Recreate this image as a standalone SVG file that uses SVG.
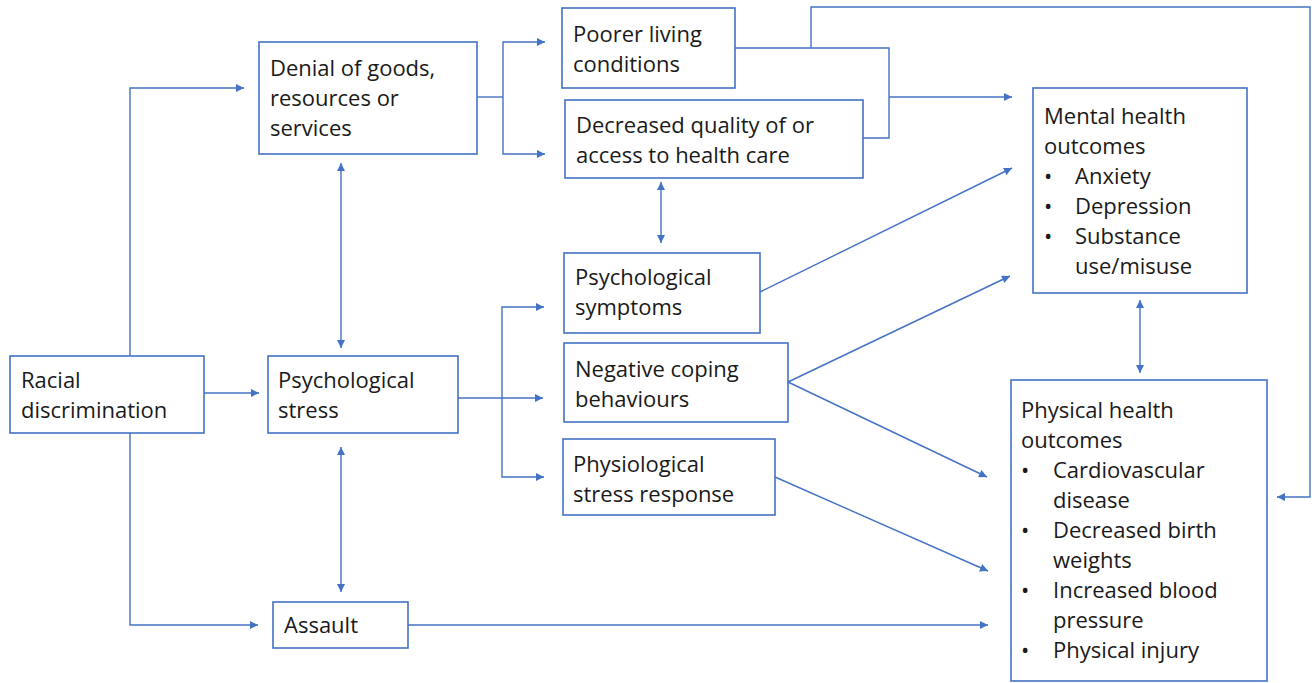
<svg xmlns="http://www.w3.org/2000/svg" width="1314" height="683" viewBox="0 0 1314 683">
<style>
.box{fill:#fff;stroke:#4472C4;stroke-width:1.6}
.ln{fill:none;stroke:#4472C4;stroke-width:1.4}
text{font-family:"Open Sans",Lato,"Liberation Sans",sans-serif;font-size:22px;fill:#1a1a1a}
</style>
<defs>
<marker id="ah" viewBox="0 0 10 10" refX="10" refY="5" markerWidth="9" markerHeight="8" markerUnits="userSpaceOnUse" orient="auto-start-reverse">
<path d="M0,0 L10,5 L0,10 z" fill="#4472C4"/>
</marker>
</defs>
<rect width="1314" height="683" fill="#fff"/>
<g id="connectors">
<path class="ln" d="M130,356 V88 H244" marker-end="url(#ah)"/>
<path class="ln" d="M130,433 V625 H258" marker-end="url(#ah)"/>
<path class="ln" d="M204,393 H259" marker-end="url(#ah)"/>
<path class="ln" d="M341,163 V348" marker-start="url(#ah)" marker-end="url(#ah)"/>
<path class="ln" d="M341,447 V592" marker-start="url(#ah)" marker-end="url(#ah)"/>
<path class="ln" d="M477,97 H503"/>
<path class="ln" d="M545,42 H503 V154 H545" marker-start="url(#ah)" marker-end="url(#ah)"/>
<path class="ln" d="M458,398 H543" marker-end="url(#ah)"/>
<path class="ln" d="M544,307 H502 V477 H544" marker-start="url(#ah)" marker-end="url(#ah)"/>
<path class="ln" d="M661,182 V243" marker-start="url(#ah)" marker-end="url(#ah)"/>
<path class="ln" d="M735,48 H889 V138 H863"/>
<path class="ln" d="M889,97 H1012" marker-end="url(#ah)"/>
<path class="ln" d="M811,48 V7 H1310 V497 H1277" marker-end="url(#ah)"/>
<path class="ln" d="M760,292 L1012,168" marker-end="url(#ah)"/>
<path class="ln" d="M788,382 L1010,276" marker-end="url(#ah)"/>
<path class="ln" d="M788,382 L987,477" marker-end="url(#ah)"/>
<path class="ln" d="M775,477 L988,571" marker-end="url(#ah)"/>
<path class="ln" d="M408,625 H988" marker-end="url(#ah)"/>
<path class="ln" d="M1140,300 V373" marker-start="url(#ah)" marker-end="url(#ah)"/>
</g>
<g id="racial">
<rect class="box" x="10" y="356" width="194" height="77"/>
<text x="21" y="388">Racial</text>
<text x="21" y="418">discrimination</text>
</g>
<g id="denial">
<rect class="box" x="259" y="42" width="218" height="112"/>
<text x="270" y="76">Denial of goods,</text>
<text x="270" y="106">resources or</text>
<text x="270" y="136">services</text>
</g>
<g id="stress">
<rect class="box" x="268" y="356" width="190" height="77"/>
<text x="278" y="388">Psychological</text>
<text x="278" y="418">stress</text>
</g>
<g id="assault">
<rect class="box" x="273" y="602" width="135" height="46"/>
<text x="284" y="633">Assault</text>
</g>
<g id="poorer">
<rect class="box" x="562" y="8" width="173" height="80"/>
<text x="573" y="42">Poorer living</text>
<text x="573" y="72">conditions</text>
</g>
<g id="healthcare">
<rect class="box" x="565" y="100" width="298" height="78"/>
<text x="576" y="133">Decreased quality of or</text>
<text x="576" y="163">access to health care</text>
</g>
<g id="symptoms">
<rect class="box" x="564" y="253" width="196" height="80"/>
<text x="575" y="285">Psychological</text>
<text x="575" y="315">symptoms</text>
</g>
<g id="coping">
<rect class="box" x="564" y="343" width="224" height="79"/>
<text x="575" y="377">Negative coping</text>
<text x="575" y="407">behaviours</text>
</g>
<g id="physiological">
<rect class="box" x="563" y="439" width="212" height="76"/>
<text x="573" y="472">Physiological</text>
<text x="573" y="502">stress response</text>
</g>
<g id="mental">
<rect class="box" x="1033" y="88" width="214" height="205"/>
<text x="1044" y="124">Mental health</text>
<text x="1044" y="154">outcomes</text>
<text x="1044" y="184">•</text><text x="1075" y="184">Anxiety</text>
<text x="1044" y="214">•</text><text x="1075" y="214">Depression</text>
<text x="1044" y="244">•</text><text x="1075" y="244">Substance</text>
<text x="1075" y="274">use/misuse</text>
</g>
<g id="physical">
<rect class="box" x="1011" y="380" width="256" height="301"/>
<text x="1021" y="418">Physical health</text>
<text x="1021" y="448">outcomes</text>
<text x="1021" y="478">•</text><text x="1053" y="478">Cardiovascular</text>
<text x="1053" y="508">disease</text>
<text x="1021" y="538">•</text><text x="1053" y="538">Decreased birth</text>
<text x="1053" y="568">weights</text>
<text x="1021" y="598">•</text><text x="1053" y="598">Increased blood</text>
<text x="1053" y="628">pressure</text>
<text x="1021" y="658">•</text><text x="1053" y="658">Physical injury</text>
</g>
</svg>
